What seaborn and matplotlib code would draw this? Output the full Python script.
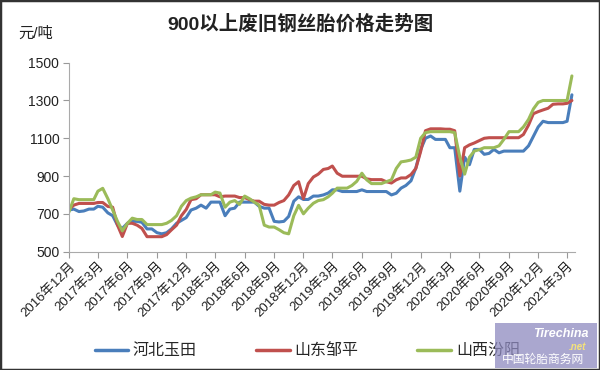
import matplotlib
matplotlib.use("Agg")
import matplotlib.pyplot as plt
import pandas as pd
import seaborn as sns
from matplotlib.patches import Rectangle

# semi-monthly readings, 2016-12-01 .. 2021-03-16
dates = pd.to_datetime([f"{y}-{m:02d}-{d:02d}"
                        for y in range(2016, 2022) for m in range(1, 13) for d in (1, 16)
                        if pd.Timestamp(2016, 12, 1) <= pd.Timestamp(y, m, d) <= pd.Timestamp(2021, 3, 16)])

hebei = [720, 725, 712, 715, 725, 725, 740, 735, 705, 690,
         640, 623, 650, 660, 660, 655, 620, 620, 600, 594,
         600, 620, 650, 665, 680, 720, 730, 746, 730, 762,
         762, 762, 690, 725, 730, 762, 762, 762, 762, 740,
         730, 730, 660, 657, 660, 686, 767, 790, 776, 776,
         794, 794, 800, 810, 827, 827, 818, 818, 818, 818,
         827, 818, 818, 818, 818, 818, 800, 809, 836, 850,
         875, 943, 1040, 1100, 1112, 1094, 1094, 1094, 1050, 1050,
         820, 1000, 960, 1041, 1041, 1015, 1020, 1041, 1023, 1032,
         1032, 1032, 1032, 1032, 1060, 1110, 1160, 1190, 1183, 1183,
         1183, 1183, 1190, 1330]

shandong = [723, 746, 755, 755, 755, 755, 760, 760, 739, 735,
            640, 580, 650, 650, 640, 623, 579, 579, 579, 579,
            590, 615, 640, 690, 723, 775, 780, 801, 801, 801,
            801, 790, 794, 794, 794, 786, 786, 775, 767, 767,
            750, 746, 746, 760, 770, 800, 850, 870, 780, 860,
            895, 910, 935, 940, 953, 915, 899, 899, 899, 899,
            899, 885, 881, 881, 881, 870, 863, 880, 890, 890,
            908, 940, 1030, 1140, 1150, 1150, 1150, 1148, 1148, 1140,
            900, 1050, 1065, 1075, 1088, 1100, 1103, 1103, 1103, 1103,
            1103, 1103, 1103, 1120, 1170, 1230, 1241, 1250, 1259, 1280,
            1282, 1282, 1285, 1300]

shanxi = [710, 780, 775, 775, 775, 775, 820, 835, 780, 720,
          660, 610, 650, 677, 670, 670, 643, 643, 643, 643,
          650, 665, 690, 740, 770, 783, 790, 801, 801, 801,
          815, 810, 735, 762, 770, 750, 794, 780, 762, 746,
          640, 630, 630, 616, 600, 594, 690, 745, 700, 730,
          756, 770, 775, 790, 809, 836, 836, 836, 850, 872,
          915, 880, 860, 860, 860, 870, 880, 940, 975, 979,
          985, 1000, 1100, 1130, 1135, 1135, 1135, 1135, 1135, 1130,
          1000, 910, 1000, 1032, 1040, 1050, 1050, 1050, 1060, 1094,
          1135, 1135, 1135, 1160, 1200, 1255, 1290, 1300, 1300, 1300,
          1300, 1300, 1300, 1430]

series_names = ["河北玉田", "山东邹平", "山西汾阳"]
colors = ["#4a7ebb", "#c0504d", "#9bbb59"]

df = pd.DataFrame({"date": dates, series_names[0]: hebei,
                   series_names[1]: shandong, series_names[2]: shanxi})
long_df = df.melt(id_vars="date", var_name="地区", value_name="价格")

sns.set_style("white")
plt.rcParams["font.family"] = ["Liberation Sans", "Noto Sans CJK SC", "DejaVu Sans"]

fig = plt.figure(figsize=(6, 3.7), dpi=100)
ax = fig.add_axes([0.115, 0.32, 0.843, 0.5105])

sns.lineplot(data=long_df, x="date", y="价格", hue="地区", hue_order=series_names,
             palette=colors, linewidth=2.2, ax=ax, legend=False)

ax.set_ylim(500, 1500)
ax.set_yticks([500, 700, 900, 1100, 1300, 1500])
ax.set_xlim(pd.Timestamp("2016-12-01"), pd.Timestamp("2021-03-25"))
ticks = pd.date_range("2016-12-01", "2021-03-01", freq="3MS")
ax.set_xticks(ticks)
ax.set_xticklabels([f"{t.year}年{t.month}月" for t in ticks], rotation=45,
                   ha="right", rotation_mode="anchor", fontsize=9.5, color="#222222")
ax.tick_params(axis="y", labelsize=10, colors="#222222", length=4, width=0.8,
               color="#999999", direction="out", left=True, pad=3)
ax.tick_params(axis="x", length=4, width=0.8, color="#999999", direction="out",
               bottom=True, pad=2)
for side in ["top", "right"]:
    ax.spines[side].set_visible(False)
for side in ["left", "bottom"]:
    ax.spines[side].set_color("#aaaaaa")
    ax.spines[side].set_linewidth(0.8)
ax.set_xlabel("")
ax.set_ylabel("")

fig.text(0.5, 0.935, "900以上废旧钢丝胎价格走势图", ha="center", va="center",
         fontsize=14, fontweight="bold", color="#222222")
fig.text(0.03, 0.91, "元/吨", ha="left", va="center", fontsize=11, color="#222222")

handles = [plt.Line2D([], [], color=c, linewidth=2.5) for c in colors]
fig.legend(handles, series_names, loc="center", bbox_to_anchor=(0.512, 0.052), ncol=3,
           frameon=False, fontsize=11.5, handlelength=2.1, handletextpad=0.3,
           columnspacing=3.7, borderpad=0, borderaxespad=0)

# watermark box in the bottom-right corner, drawn over the legend
fig.patches.append(Rectangle((0.825, 0.005), 0.17, 0.122, transform=fig.transFigure,
                             facecolor="#8e8abf", alpha=0.75, edgecolor="none", zorder=6))
fig.text(0.935, 0.098, "Tirechina", ha="center", va="center", fontsize=9,
         fontweight="bold", style="italic", color="white", zorder=7)
fig.text(0.962, 0.063, ".net", ha="center", va="center", fontsize=7,
         fontweight="bold", style="italic", color="#f5e27a", zorder=7)
fig.text(0.905, 0.028, "中国轮胎商务网", ha="center", va="center", fontsize=8.5,
         color="white", zorder=7)

fig.patches.append(Rectangle((0, 0), 1, 1, transform=fig.transFigure, fill=False,
                             edgecolor="#333333", linewidth=2.5, zorder=8))

fig.savefig("out.png", dpi=100)
